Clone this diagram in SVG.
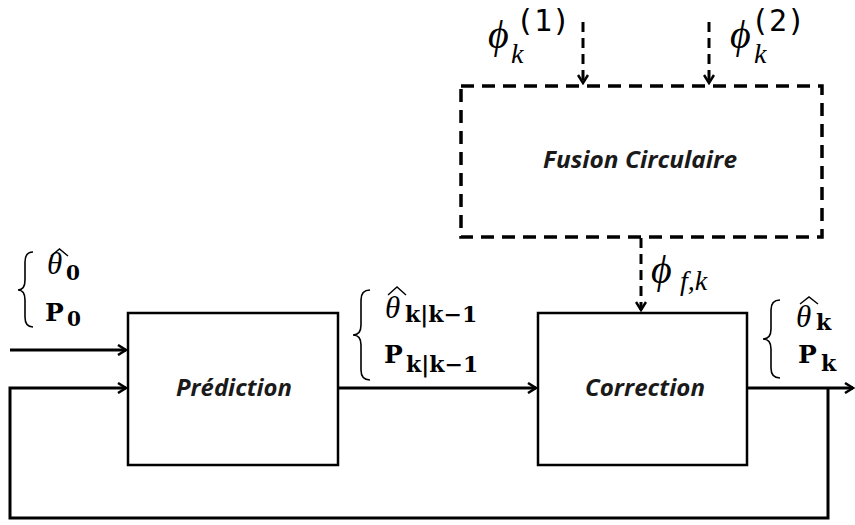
<svg xmlns="http://www.w3.org/2000/svg" width="855" height="525" viewBox="0 0 855 525">
<defs>
<marker id="ah" markerWidth="12" markerHeight="12" refX="10" refY="6" orient="auto" markerUnits="userSpaceOnUse">
<path d="M2,1 L10,6 L2,11" fill="none" stroke="#000" stroke-width="2.5"/>
</marker>
<style>
.box{fill:#fff;stroke:#000;stroke-width:2.5}
.dbox{fill:none;stroke:#000;stroke-width:3.5;stroke-dasharray:13,8}
.ln{fill:none;stroke:#000;stroke-width:3}
.dln{fill:none;stroke:#000;stroke-width:3;stroke-dasharray:10,6}
.lbl{font-family:"Open Sans",sans-serif;font-weight:bold;font-style:italic;font-size:23px;fill:#1a1a1a;text-anchor:middle}
.hat{fill:none;stroke:#000;stroke-width:1.4}
.mono{font-family:"DejaVu Sans Mono","Liberation Mono",monospace;font-size:30px;fill:#000}
.mi{font-family:"Liberation Serif",serif;font-style:italic;fill:#000}
.mb{font-family:"DejaVu Serif","Liberation Serif",serif;font-weight:bold;fill:#000}
.br{fill:none;stroke:#000;stroke-width:1.6}
</style>
</defs>
<rect width="855" height="525" fill="#fff"/>
<g id="connectors">
<path class="ln" d="M10,350 H126" marker-end="url(#ah)"/>
<path class="ln" d="M828,388 V518 H10 V388 H126" marker-end="url(#ah)"/>
<path class="ln" d="M338,388 H536" marker-end="url(#ah)"/>
<path class="ln" d="M747,388 H853" marker-end="url(#ah)"/>
<path class="dln" d="M583,22 V83" marker-end="url(#ah)"/>
<path class="dln" d="M709,22 V83" marker-end="url(#ah)"/>
<path class="dln" d="M641,238 V310" marker-end="url(#ah)"/>
</g>
<g id="prediction">
<rect class="box" x="128" y="313" width="210" height="152"/>
<text class="lbl" x="234" y="396" textLength="116" lengthAdjust="spacingAndGlyphs">Prédiction</text>
</g>
<g id="correction">
<rect class="box" x="538" y="313" width="209" height="152"/>
<text class="lbl" x="645" y="396" textLength="120" lengthAdjust="spacingAndGlyphs">Correction</text>
</g>
<g id="fusion">
<rect class="dbox" x="461" y="86" width="361" height="151"/>
<text class="lbl" x="640" y="168" textLength="194" lengthAdjust="spacingAndGlyphs">Fusion Circulaire</text>
</g>
<g id="labels">
<path class="br" d="M33,252 Q25,252 25,262 V280 Q25,290 18,290 Q25,290 25,300 V317 Q25,327 33,327"/>
<text class="mi" x="47" y="274" font-size="31">θ</text>
<path class="hat" d="M51,256 L59.5,249 L68,256"/>
<text class="mb" x="66" y="280" font-size="20">0</text>
<text class="mb" x="45" y="321" font-size="25">P</text>
<text class="mb" x="67" y="326" font-size="20">0</text>

<path class="br" d="M370,290 Q361,290 361,300 V325 Q361,335 353,335 Q361,335 361,345 V370 Q361,380 370,380"/>
<text class="mi" x="385" y="318" font-size="31">θ</text>
<path class="hat" d="M388,295 L397,287 L406,295"/>
<text class="mb" x="405" y="322" font-size="22">k|k−1</text>
<text class="mb" x="384" y="363" font-size="25">P</text>
<text class="mb" x="406" y="372" font-size="22">k|k−1</text>

<path class="br" d="M780,300 Q771,300 771,310 V329 Q771,339 763,339 Q771,339 771,349 V368 Q771,378 780,378"/>
<text class="mi" x="796" y="327" font-size="31">θ</text>
<path class="hat" d="M800,304 L809,297 L818,304"/>
<text class="mb" x="816" y="330" font-size="22">k</text>
<text class="mb" x="798" y="363" font-size="25">P</text>
<text class="mb" x="821" y="371" font-size="22">k</text>

<text class="mi" x="488" y="48" font-size="40">ϕ</text>
<text class="mi" x="511" y="63" font-size="28">k</text>
<text class="mono" x="516" y="31">(1)</text>

<text class="mi" x="730" y="48" font-size="40">ϕ</text>
<text class="mi" x="754" y="63" font-size="28">k</text>
<text class="mono" x="751" y="31">(2)</text>

<text class="mi" x="651" y="283" font-size="40">ϕ</text>
<text class="mi" x="680" y="290" font-size="28">f,k</text>
</g>
</svg>
